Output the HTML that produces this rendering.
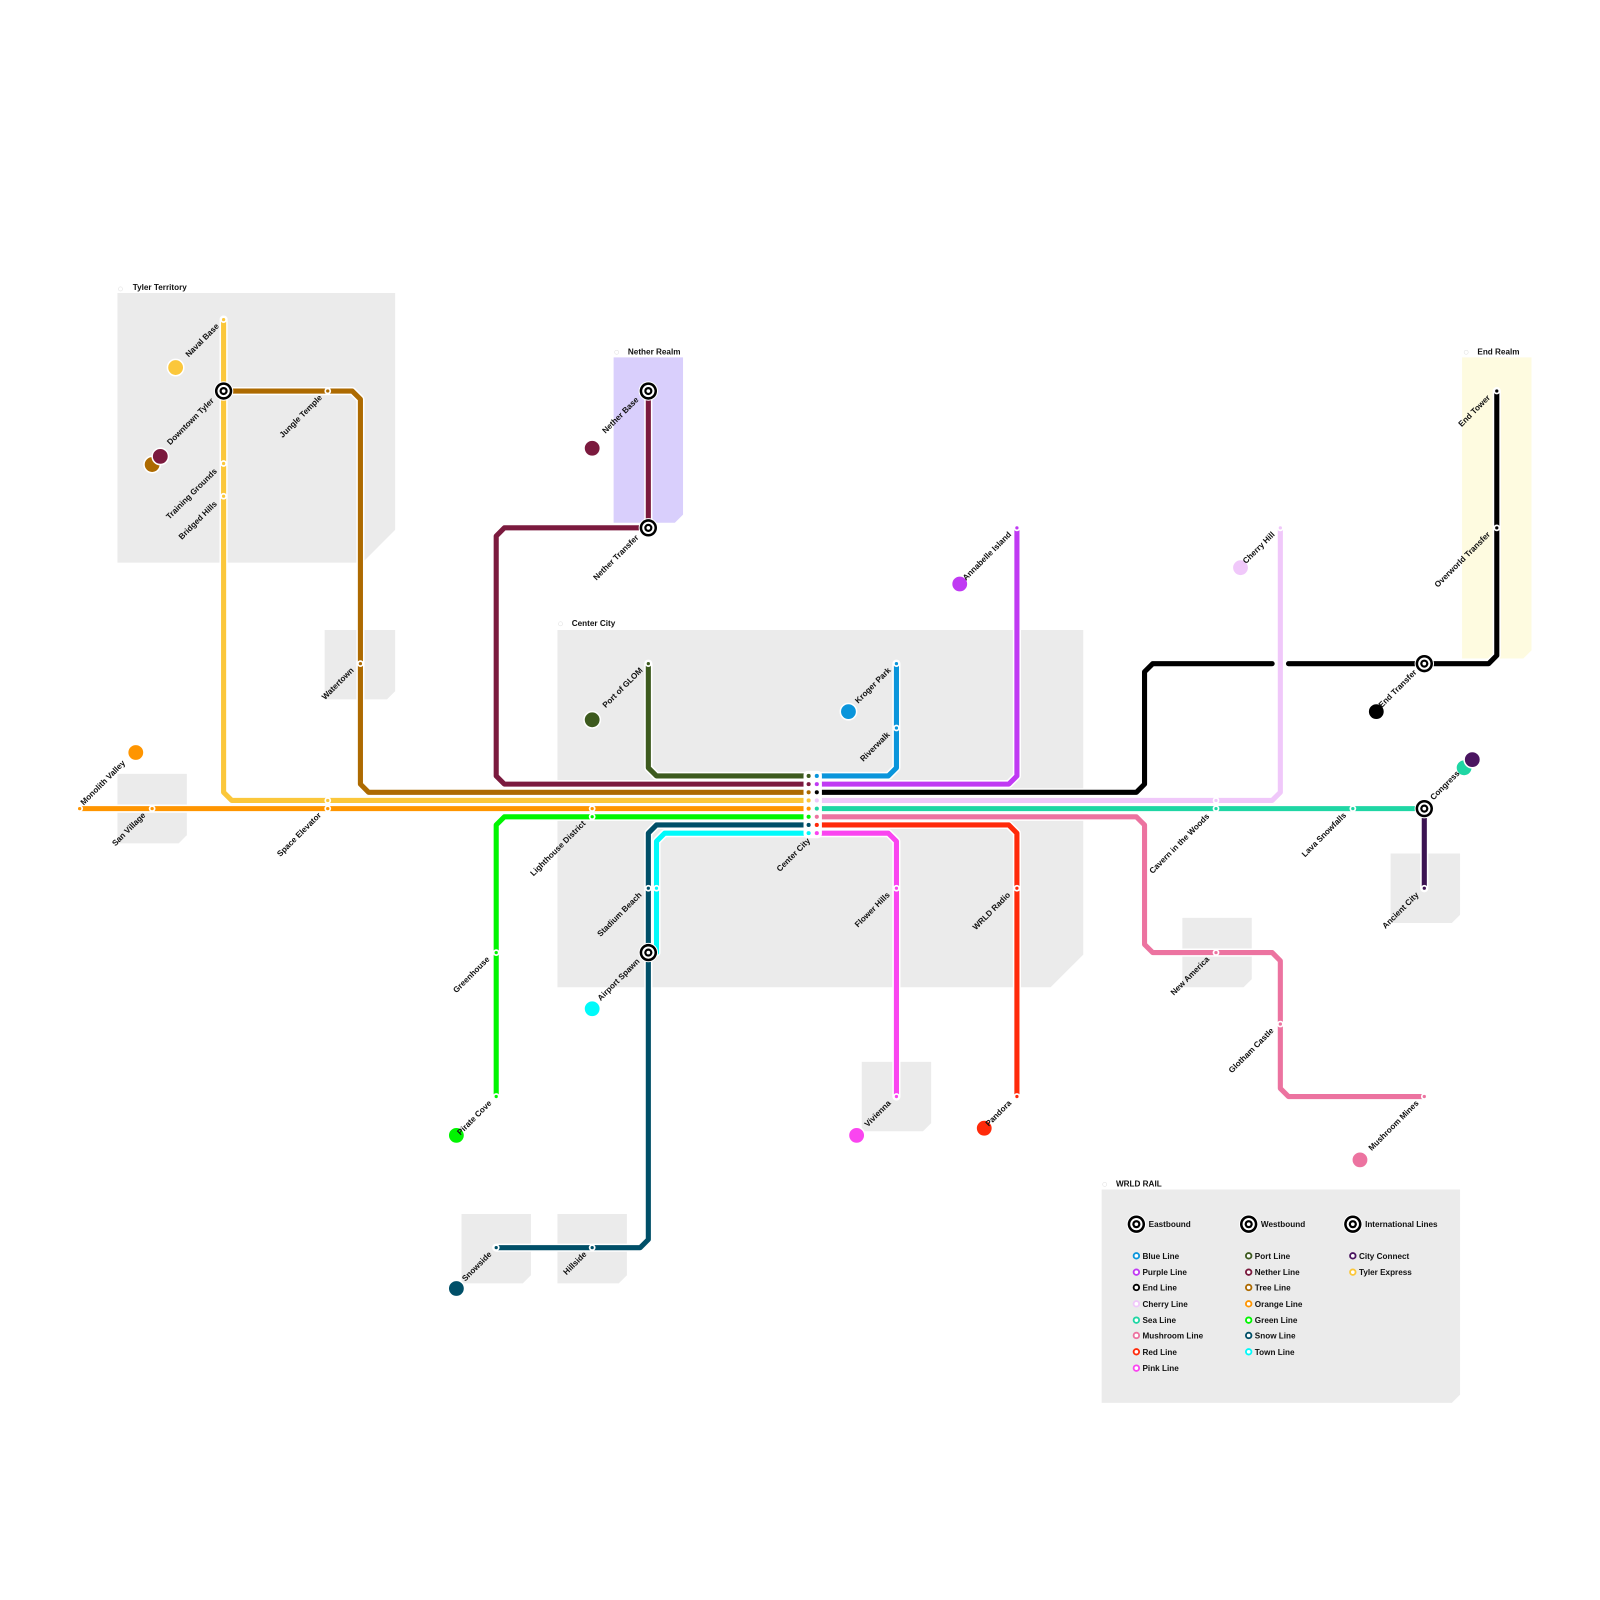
<!DOCTYPE html>
<html><head><meta charset="utf-8"><style>
html,body{margin:0;padding:0;background:#fff;}
svg{display:block;}
text{font-family:"Liberation Sans",sans-serif;font-weight:bold;font-size:8px;fill:#111;}
</style></head><body>
<svg width="1600" height="1600" viewBox="0 0 1600 1600" xmlns="http://www.w3.org/2000/svg">
<g transform="scale(1.021)">
<!-- regions -->
<g fill="#ebebeb">
<path d="M115,287 H387 V519 L355,551 H115 Z"/>
<path d="M546,617 H1061 V935 L1029,967 H546 Z"/>
<path d="M318,617 H387 V677 L379,685 H318 Z"/>
<path d="M115,758 H183 V818 L175,826 H115 Z"/>
<path d="M1362,836 H1430 V896 L1422,904 H1362 Z"/>
<path d="M1158,899 H1226 V959 L1218,967 H1158 Z"/>
<path d="M844,1040 H912 V1100 L904,1108 H844 Z"/>
<path d="M452,1189 H520 V1249 L512,1257 H452 Z"/>
<path d="M546,1189 H614 V1249 L606,1257 H546 Z"/>
<path d="M1079,1165 H1430 V1366 L1422,1374 H1079 Z"/>
</g>
<path d="M601,350 H669 V504 L661,512 H601 Z" fill="#d9cffc"/>
<path d="M1432,350 H1500 V637 L1492,645 H1432 Z" fill="#fefbe0"/>
<g fill="#fff" stroke="#ddd" stroke-width="0.5">
<circle cx="118" cy="283" r="2"/><circle cx="604" cy="345" r="2"/><circle cx="549" cy="611" r="2"/><circle cx="1436" cy="345" r="2"/><circle cx="1082" cy="1160" r="2"/>
</g>
<text x="130" y="284">Tyler Territory</text>
<text x="615" y="347">Nether Realm</text>
<text x="560" y="613">Center City</text>
<text x="1447" y="347">End Realm</text>
<text x="1093" y="1162">WRLD RAIL</text>

<g fill="none" stroke-linejoin="round" stroke-linecap="round">
<g stroke="#fff" stroke-width="8">
<path d="M219,313 V776 L227,784 H792"/>
<path d="M219,383 H345 L353,391 V768 L361,776 H792"/>
<path d="M78,792 H792"/>
<path d="M635,383 V517 H494 L486,525 V760 L494,768 H792"/>
<path d="M635,650 V752 L643,760 H792"/>
<path d="M486,1074 V808 L494,800 H792"/>
<path d="M486,1222 H627 L635,1214 V816 L643,808 H792"/>
<path d="M643,933 V824 L651,816 H792"/>
<path d="M800,760 H870 L878,752 V650"/>
<path d="M800,768 H988 L996,760 V517"/>
<path d="M800,776 H1113 L1121,768 V658 L1129,650 H1458 L1466,642 V383"/>
<path d="M800,784 H1246 L1254,776 V517"/>
<path d="M800,792 H1395"/>
<path d="M1395,792 V870"/>
<path d="M800,800 H1113 L1121,808 V925 L1129,933 H1246 L1254,941 V1066 L1262,1074 H1395"/>
<path d="M800,808 H988 L996,816 V1074"/>
<path d="M800,816 H870 L878,824 V1074"/>
</g>
<g stroke-width="5">
<path stroke="#fbc73b" d="M219,313 V776 L227,784 H792"/>
<path stroke="#ad6a00" d="M219,383 H345 L353,391 V768 L361,776 H792"/>
<path stroke="#ff9500" d="M78,792 H792"/>
<path stroke="#7b1a3e" d="M635,383 V517 H494 L486,525 V760 L494,768 H792"/>
<path stroke="#3d5a1e" d="M635,650 V752 L643,760 H792"/>
<path stroke="#00f500" d="M486,1074 V808 L494,800 H792"/>
<path stroke="#004f68" d="M486,1222 H627 L635,1214 V816 L643,808 H792"/>
<path stroke="#00fafa" d="M643,933 V824 L651,816 H792"/>
<path stroke="#0a95db" d="M800,760 H870 L878,752 V650"/>
<path stroke="#c03af3" d="M800,768 H988 L996,760 V517"/>
<path stroke="#000" d="M800,776 H1113 L1121,768 V658 L1129,650 H1246 M1262,650 H1458 L1466,642 V383"/>
<path stroke="#f0c8fa" d="M800,784 H1246 L1254,776 V517"/>
<path stroke="#1fd6a4" d="M800,792 H1395"/>
<path stroke="#3c1452" d="M1395,792 V870"/>
<path stroke="#ec73a0" d="M800,800 H1113 L1121,808 V925 L1129,933 H1246 L1254,941 V1066 L1262,1074 H1395"/>
<path stroke="#ff2a0a" d="M800,808 H988 L996,816 V1074"/>
<path stroke="#fa45f0" d="M800,816 H870 L878,824 V1074"/>
</g>
</g>

<!-- stations -->
<g>
<g fill="#fff">
<circle cx="219" cy="313" r="3.3"/><circle cx="219" cy="454" r="3.3"/><circle cx="219" cy="486" r="3.3"/><circle cx="321" cy="784" r="3.3"/>
<circle cx="321" cy="383" r="3.3"/><circle cx="353" cy="650" r="3.3"/>
<circle cx="78" cy="792" r="3.3"/><circle cx="149" cy="792" r="3.3"/><circle cx="321" cy="792" r="3.3"/><circle cx="580" cy="792" r="3.3"/>
<circle cx="635" cy="650" r="3.3"/>
<circle cx="486" cy="933" r="3.3"/><circle cx="486" cy="1074" r="3.3"/><circle cx="580" cy="800" r="3.3"/>
<circle cx="486" cy="1222" r="3.3"/><circle cx="580" cy="1222" r="3.3"/><circle cx="635" cy="870" r="3.3"/><circle cx="643" cy="870" r="3.3"/>
<circle cx="878" cy="650" r="3.3"/><circle cx="878" cy="713" r="3.3"/><circle cx="996" cy="517" r="3.3"/>
<circle cx="1466" cy="517" r="3.3"/><circle cx="1466" cy="383" r="3.3"/>
<circle cx="1254" cy="517" r="3.3"/><circle cx="1191" cy="784" r="3.3"/><circle cx="1191" cy="792" r="3.3"/><circle cx="1325" cy="792" r="3.3"/>
<circle cx="1395" cy="870" r="3.3"/><circle cx="1191" cy="933" r="3.3"/><circle cx="1254" cy="1003" r="3.3"/><circle cx="1395" cy="1074" r="3.3"/>
<circle cx="996" cy="870" r="3.3"/><circle cx="996" cy="1074" r="3.3"/><circle cx="878" cy="870" r="3.3"/><circle cx="878" cy="1074" r="3.3"/>
</g>
<circle cx="219" cy="313" r="1.6" fill="#fbc73b"/><circle cx="219" cy="454" r="1.6" fill="#fbc73b"/><circle cx="219" cy="486" r="1.6" fill="#fbc73b"/><circle cx="321" cy="784" r="1.6" fill="#fbc73b"/>
<circle cx="321" cy="383" r="1.6" fill="#ad6a00"/><circle cx="353" cy="650" r="1.6" fill="#ad6a00"/>
<circle cx="78" cy="792" r="1.6" fill="#ff9500"/><circle cx="149" cy="792" r="1.6" fill="#ff9500"/><circle cx="321" cy="792" r="1.6" fill="#ff9500"/><circle cx="580" cy="792" r="1.6" fill="#ff9500"/>
<circle cx="635" cy="650" r="1.6" fill="#3d5a1e"/>
<circle cx="486" cy="933" r="1.6" fill="#00f500"/><circle cx="486" cy="1074" r="1.6" fill="#00f500"/><circle cx="580" cy="800" r="1.6" fill="#00f500"/>
<circle cx="486" cy="1222" r="1.6" fill="#004f68"/><circle cx="580" cy="1222" r="1.6" fill="#004f68"/><circle cx="635" cy="870" r="1.6" fill="#004f68"/><circle cx="643" cy="870" r="1.6" fill="#00fafa"/>
<circle cx="878" cy="650" r="1.6" fill="#0a95db"/><circle cx="878" cy="713" r="1.6" fill="#0a95db"/><circle cx="996" cy="517" r="1.6" fill="#c03af3"/>
<circle cx="1466" cy="517" r="1.6" fill="#000"/><circle cx="1466" cy="383" r="1.6" fill="#000"/>
<circle cx="1254" cy="517" r="1.6" fill="#f0c8fa"/><circle cx="1191" cy="784" r="1.6" fill="#f0c8fa"/><circle cx="1191" cy="792" r="1.6" fill="#1fd6a4"/><circle cx="1325" cy="792" r="1.6" fill="#1fd6a4"/>
<circle cx="1395" cy="870" r="1.6" fill="#3c1452"/><circle cx="1191" cy="933" r="1.6" fill="#ec73a0"/><circle cx="1254" cy="1003" r="1.6" fill="#ec73a0"/><circle cx="1395" cy="1074" r="1.6" fill="#ec73a0"/>
<circle cx="996" cy="870" r="1.6" fill="#ff2a0a"/><circle cx="996" cy="1074" r="1.6" fill="#ff2a0a"/><circle cx="878" cy="870" r="1.6" fill="#fa45f0"/><circle cx="878" cy="1074" r="1.6" fill="#fa45f0"/>
<!-- center city column -->
<rect x="787" y="755" width="18" height="66" rx="4" fill="#fff"/>
<g>
<circle cx="792" cy="760" r="2" fill="#3d5a1e"/><circle cx="792" cy="768" r="2" fill="#7b1a3e"/><circle cx="792" cy="776" r="2" fill="#ad6a00"/><circle cx="792" cy="784" r="2" fill="#fbc73b"/>
<circle cx="792" cy="792" r="2" fill="#ff9500"/><circle cx="792" cy="800" r="2" fill="#00f500"/><circle cx="792" cy="808" r="2" fill="#004f68"/><circle cx="792" cy="816" r="2" fill="#00fafa"/>
<circle cx="800" cy="760" r="2" fill="#0a95db"/><circle cx="800" cy="768" r="2" fill="#c03af3"/><circle cx="800" cy="776" r="2" fill="#000"/><circle cx="800" cy="784" r="2" fill="#f0c8fa"/>
<circle cx="800" cy="792" r="2" fill="#1fd6a4"/><circle cx="800" cy="800" r="2" fill="#ec73a0"/><circle cx="800" cy="808" r="2" fill="#ff2a0a"/><circle cx="800" cy="816" r="2" fill="#fa45f0"/>
</g>
</g>

<!-- interchanges -->
<defs>
<g id="ic"><circle r="9.5" fill="#fff"/><circle r="8.5" fill="#000"/><circle r="6" fill="#fff"/><circle r="4" fill="#000"/><circle r="1.8" fill="#fff"/></g>
</defs>
<use href="#ic" x="219" y="383"/><use href="#ic" x="635" y="383"/><use href="#ic" x="635" y="517"/>
<use href="#ic" x="635" y="933"/><use href="#ic" x="1395" y="650"/><use href="#ic" x="1395" y="792"/>

<!-- color dots -->
<g stroke="#fff" stroke-width="1.5">
<circle cx="172" cy="360" r="8" fill="#fbc73b"/>
<circle cx="149" cy="455" r="8" fill="#ad6a00"/><circle cx="157" cy="447" r="8" fill="#7b1a3e"/>
<circle cx="133" cy="737" r="8" fill="#ff9500"/>
<circle cx="580" cy="439" r="8" fill="#7b1a3e"/>
<circle cx="580" cy="705" r="8" fill="#3d5a1e"/>
<circle cx="831" cy="697" r="8" fill="#0a95db"/>
<circle cx="940" cy="572" r="8" fill="#c03af3"/>
<circle cx="1215" cy="556" r="8" fill="#f0c8fa"/>
<circle cx="1348" cy="697" r="8" fill="#000"/>
<circle cx="1434" cy="752" r="8" fill="#1fd6a4"/><circle cx="1442" cy="744" r="8" fill="#4a1560"/>
<circle cx="1332" cy="1136" r="8" fill="#ec73a0"/>
<circle cx="964" cy="1105" r="8" fill="#ff2a0a"/>
<circle cx="839" cy="1112" r="8" fill="#fa45f0"/>
<circle cx="447" cy="1112" r="8" fill="#00f500"/>
<circle cx="580" cy="988" r="8" fill="#00fafa"/>
<circle cx="447" cy="1262" r="8" fill="#004f68"/>
</g>

<!-- labels (end-anchored, rotated -45) -->
<g text-anchor="end">
<text transform="translate(215,320) rotate(-45)">Naval Base</text>
<text transform="translate(210,393) rotate(-45)">Downtown Tyler</text>
<text transform="translate(213,462) rotate(-45)">Training Grounds</text>
<text transform="translate(213,494) rotate(-45)">Bridged Hills</text>
<text transform="translate(316,390) rotate(-45)">Jungle Temple</text>
<text transform="translate(347,657) rotate(-45)">Watertown</text>
<text transform="translate(143,799) rotate(-45)">San Village</text>
<text transform="translate(315,799) rotate(-45)">Space Elevator</text>
<text transform="translate(574,807) rotate(-45)">Lighthouse District</text>
<text transform="translate(626,392) rotate(-45)">Nether Base</text>
<text transform="translate(626,527) rotate(-45)">Nether Transfer</text>
<text transform="translate(630,657) rotate(-45)">Port of GLOM</text>
<text transform="translate(480,940) rotate(-45)">Greenhouse</text>
<text transform="translate(482,1081) rotate(-45)">Pirate Cove</text>
<text transform="translate(482,1229) rotate(-45)">Snowside</text>
<text transform="translate(575,1229) rotate(-45)">Hillside</text>
<text transform="translate(629,877) rotate(-45)">Stadium Beach</text>
<text transform="translate(627,942) rotate(-45)">Airport Spawn</text>
<text transform="translate(794,824) rotate(-45)">Center City</text>
<text transform="translate(873,657) rotate(-45)">Kroger Park</text>
<text transform="translate(872,720) rotate(-45)">Riverwalk</text>
<text transform="translate(991,524) rotate(-45)">Annabelle Island</text>
<text transform="translate(1249,524) rotate(-45)">Cherry Hill</text>
<text transform="translate(1460,390) rotate(-45)">End Tower</text>
<text transform="translate(1460,524) rotate(-45)">Overworld Transfer</text>
<text transform="translate(1388,659) rotate(-45)">End Transfer</text>
<text transform="translate(1185,800) rotate(-45)">Cavern in the Woods</text>
<text transform="translate(1319,799) rotate(-45)">Lava Snowfalls</text>
<text transform="translate(1390,877) rotate(-45)">Ancient City</text>
<text transform="translate(1185,940) rotate(-45)">New America</text>
<text transform="translate(1248,1010) rotate(-45)">Glotham Castle</text>
<text transform="translate(1390,1081) rotate(-45)">Mushroom Mines</text>
<text transform="translate(990,877) rotate(-45)">WRLD Radio</text>
<text transform="translate(991,1081) rotate(-45)">Pandora</text>
<text transform="translate(872,877) rotate(-45)">Flower Hills</text>
<text transform="translate(873,1081) rotate(-45)">Vivienna</text>
</g>
<text transform="translate(82,789) rotate(-45)">Monolith Valley</text>
<text transform="translate(1404,784) rotate(-45)">Congress</text>

<!-- legend -->
<use href="#ic" x="1113" y="1199"/><use href="#ic" x="1223" y="1199"/><use href="#ic" x="1325" y="1199"/>
<text x="1125" y="1202">Eastbound</text><text x="1235" y="1202">Westbound</text><text x="1337" y="1202">International Lines</text>
<g fill="#fff" stroke-width="1.8">
<circle cx="1113" cy="1230" r="2.7" stroke="#0a95db"/><circle cx="1113" cy="1246" r="2.7" stroke="#c03af3"/><circle cx="1113" cy="1261" r="2.7" stroke="#000"/><circle cx="1113" cy="1277" r="2.7" stroke="#f0c8fa"/>
<circle cx="1113" cy="1293" r="2.7" stroke="#1fd6a4"/><circle cx="1113" cy="1308" r="2.7" stroke="#ec73a0"/><circle cx="1113" cy="1324" r="2.7" stroke="#ff2a0a"/><circle cx="1113" cy="1340" r="2.7" stroke="#fa45f0"/>
<circle cx="1223" cy="1230" r="2.7" stroke="#3d5a1e"/><circle cx="1223" cy="1246" r="2.7" stroke="#7b1a3e"/><circle cx="1223" cy="1261" r="2.7" stroke="#ad6a00"/><circle cx="1223" cy="1277" r="2.7" stroke="#ff9500"/>
<circle cx="1223" cy="1293" r="2.7" stroke="#00f500"/><circle cx="1223" cy="1308" r="2.7" stroke="#004f68"/><circle cx="1223" cy="1324" r="2.7" stroke="#00fafa"/>
<circle cx="1325" cy="1230" r="2.7" stroke="#4a1560"/><circle cx="1325" cy="1246" r="2.7" stroke="#fbc73b"/>
</g>
<g>
<text x="1119" y="1233">Blue Line</text><text x="1119" y="1249">Purple Line</text><text x="1119" y="1264">End Line</text><text x="1119" y="1280">Cherry Line</text>
<text x="1119" y="1296">Sea Line</text><text x="1119" y="1311">Mushroom Line</text><text x="1119" y="1327">Red Line</text><text x="1119" y="1343">Pink Line</text>
<text x="1229" y="1233">Port Line</text><text x="1229" y="1249">Nether Line</text><text x="1229" y="1264">Tree Line</text><text x="1229" y="1280">Orange Line</text>
<text x="1229" y="1296">Green Line</text><text x="1229" y="1311">Snow Line</text><text x="1229" y="1327">Town Line</text>
<text x="1331" y="1233">City Connect</text><text x="1331" y="1249">Tyler Express</text>
</g>
</g>
</svg>
</body></html>
